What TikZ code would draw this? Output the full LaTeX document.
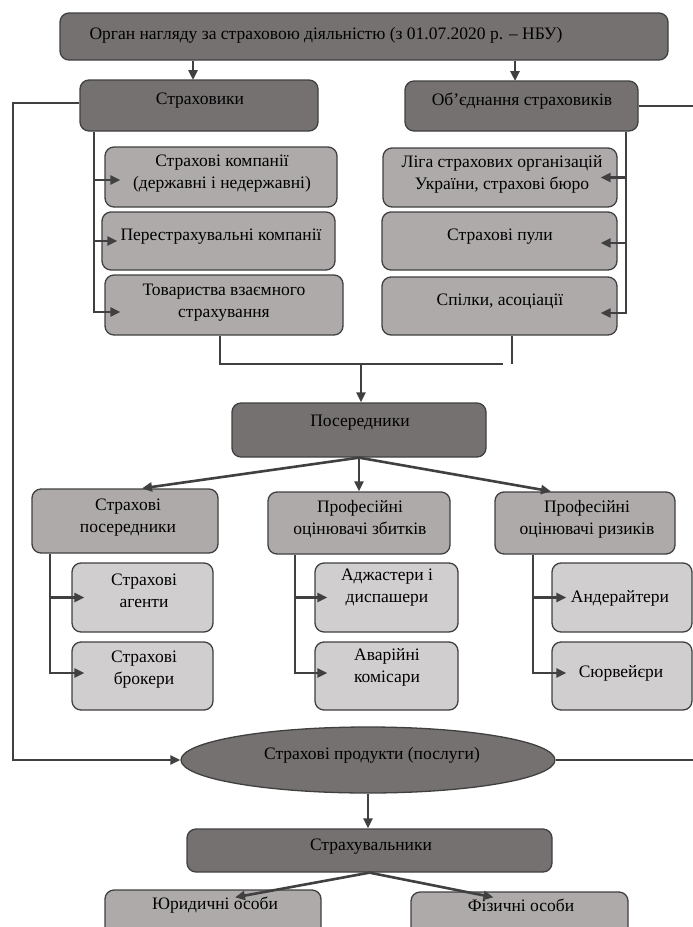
\documentclass[tikz,border=0pt]{standalone}
\usepackage{fontspec}
\setmainfont{Liberation Serif}
\usetikzlibrary{arrows.meta,shapes.geometric}
\definecolor{dk}{RGB}{118,113,113}
\definecolor{md}{RGB}{174,170,170}
\definecolor{lt}{RGB}{208,206,206}
\definecolor{ln}{RGB}{64,64,64}
\begin{document}
\begin{tikzpicture}[x=1pt,y=-1pt,
  box/.style={draw=ln, line width=1.3pt, rounded corners=9pt, inner sep=0pt},
  dbox/.style={box, fill=dk},
  mbox/.style={box, fill=md},
  lbox/.style={box, fill=lt},
  txt/.style={font=\fontsize{17.5}{22}\selectfont, align=center, inner sep=0pt, text=black},
  conn/.style={draw=ln, line width=2.6pt},
  arr/.style={conn, -{Triangle[length=10pt,width=9pt]}},
]
\useasboundingbox (0,0) rectangle (693,927);
\clip (0,0) rectangle (693,927);

% ---------- boxes ----------
\node[dbox, minimum width=608pt, minimum height=47pt] (top) at (364,36.5) {};
\node[dbox, minimum width=238pt, minimum height=51pt] (str) at (199,105.5) {};
\node[dbox, minimum width=233pt, minimum height=50pt] (obj) at (521.5,106) {};

\node[mbox, minimum width=232pt, minimum height=60pt] (sk) at (221,177) {};
\node[mbox, minimum width=233pt, minimum height=58pt] (pk) at (218.5,241) {};
\node[mbox, minimum width=238pt, minimum height=60pt] (tv) at (224,305) {};

\node[mbox, minimum width=234pt, minimum height=59pt] (liga) at (500,177.5) {};
\node[mbox, minimum width=235pt, minimum height=58pt] (pul) at (499.5,241) {};
\node[mbox, minimum width=235pt, minimum height=58pt] (spil) at (499.5,306) {};

\node[dbox, minimum width=254pt, minimum height=54pt] (pos) at (359,430) {};

\node[mbox, minimum width=186pt, minimum height=64pt] (sp) at (125,521) {};
\node[mbox, minimum width=182pt, minimum height=62pt] (pz) at (359,523) {};
\node[mbox, minimum width=180pt, minimum height=62pt] (pr) at (585,523) {};

\node[lbox, minimum width=141pt, minimum height=69pt] (ag) at (142.5,597.5) {};
\node[lbox, minimum width=141pt, minimum height=68pt] (br) at (142.5,676) {};
\node[lbox, minimum width=143pt, minimum height=69pt] (ad) at (386.5,597.5) {};
\node[lbox, minimum width=143pt, minimum height=68pt] (av) at (386.5,676) {};
\node[lbox, minimum width=140pt, minimum height=69pt] (an) at (622,597.5) {};
\node[lbox, minimum width=140pt, minimum height=68pt] (sy) at (622,676) {};

\node[ellipse, draw=ln, line width=1.3pt, fill=dk, inner sep=0pt,
      minimum width=374pt, minimum height=66pt] (ell) at (368,760) {};

\node[dbox, minimum width=365pt, minimum height=43pt] (stv) at (369.5,850.5) {};
\node[mbox, minimum width=216pt, minimum height=56pt] (yur) at (213,918) {};
\node[mbox, minimum width=217pt, minimum height=54pt] (fiz) at (519.5,919) {};

% ---------- texts ----------
\node[txt] (topT) at (326,35) {Орган нагляду за страховою діяльністю (з 01.07.2020 р. – НБУ)};
\node[txt] (strT) at (200,101) {Страховики};
\node[txt] (objT) at (522,101) {Об’єднання страховиків};
\node[txt] (skT) at (222,174) {Страхові компанії\\(державні і недержавні)};
\node[txt] (pkT) at (221,237) {Перестрахувальні компанії};
\node[txt] (tvT) at (224,303) {Товариства взаємного\\страхування};
\node[txt] (ligaT) at (502,174) {Ліга страхових організацій\\України, страхові бюро};
\node[txt] (pulT) at (500,237) {Страхові пули};
\node[txt] (spilT) at (500,301) {Спілки, асоціації};
\node[txt] (posT) at (360,423) {Посередники};
\node[txt] (spT) at (128,518) {Страхові\\посередники};
\node[txt] (pzT) at (360,519) {Професійні\\оцінювачі збитків};
\node[txt] (prT) at (587,519) {Професійні\\оцінювачі ризиків};
\node[txt] (agT) at (144,591) {Страхові\\агенти};
\node[txt] (brT) at (144,670) {Страхові\\брокери};
\node[txt] (adT) at (387,588) {Аджастери і\\диспашери};
\node[txt] (avT) at (387,667) {Аварійні\\комісари};
\node[txt] (anT) at (620,598) {Андерайтери};
\node[txt] (syT) at (621,673) {Сюрвейєри};
\node[txt] (ellT) at (372,755) {Страхові продукти (послуги)};
\node[txt] (stvT) at (371,847) {Страхувальники};
\node[txt] (yurT) at (215,905) {Юридичні особи};
\node[txt] (fizT) at (521,905) {Фізичні особи};

% ---------- helper coordinates ----------
\coordinate (a1) at (193,80);
\coordinate (a2) at (515,81);
\coordinate (v1) at (94,0);
\coordinate (v2) at (626,0);
\coordinate (h1) at (220,364);
\coordinate (h2) at (503,364);
\coordinate (h3) at (512,364);
\coordinate (h4) at (361,364);
\coordinate (v3) at (50,0);
\coordinate (v4) at (295,0);
\coordinate (v5) at (533,0);
\coordinate (er) at (705,0);

% ---------- connectors ----------
\draw[arr] (top.south -| a1) -- (a1);
\draw[arr] (top.south -| a2) -- (a2);

\draw[arr] (str.west |- 0,103) -- (13,103) |- (ell.west);
\draw[conn] (obj.east) -- (obj.east -| er);
\draw[conn] (ell.east) -- (ell.east -| er);

\draw[arr] (str.south -| v1) |- ([xshift=16pt,yshift=-3pt]sk.west);
\draw[arr] (str.south -| v1) |- ([xshift=16pt]pk.west);
\draw[arr] (str.south -| v1) |- ([xshift=16pt,yshift=-7pt]tv.west);

\draw[arr] (obj.south -| v2) |- ([xshift=-17pt]liga.east);
\draw[arr] (obj.south -| v2) |- ([xshift=-17pt,yshift=-2pt]pul.east);
\draw[arr] (obj.south -| v2) |- ([xshift=-17pt,yshift=-7pt]spil.east);

\draw[conn] (tv.south -| h1) -- (h1) -- (h2);
\draw[conn] (spil.south -| h3) -- (h3);
\draw[arr] (h4) -- (h4 |- pos.north);

\draw[arr] (pos.south) -- ([xshift=17pt]sp.north);
\draw[arr] (pos.south) -- (pz.north);
\draw[arr] (pos.south) -- ([xshift=-34pt]pr.north);

\draw[arr] (sp.south -| v3) |- ([xshift=13pt]ag.west);
\draw[arr] (sp.south -| v3) |- ([xshift=13pt,yshift=3pt]br.west);
\draw[arr] (pz.south -| v4) |- ([xshift=13pt]ad.west);
\draw[arr] (pz.south -| v4) |- ([xshift=13pt,yshift=3pt]av.west);
\draw[arr] (pr.south -| v5) |- ([xshift=15pt]an.west);
\draw[arr] (pr.south -| v5) |- ([xshift=15pt,yshift=3pt]sy.west);

\draw[arr] (ell.south) -- (ell.south |- stv.north);
\draw[arr] (stv.south) -- ([xshift=22pt,yshift=-8pt]yur.north);
\draw[arr] (stv.south) -- ([xshift=-26pt,yshift=-6pt]fiz.north);
\end{tikzpicture}
\end{document}
